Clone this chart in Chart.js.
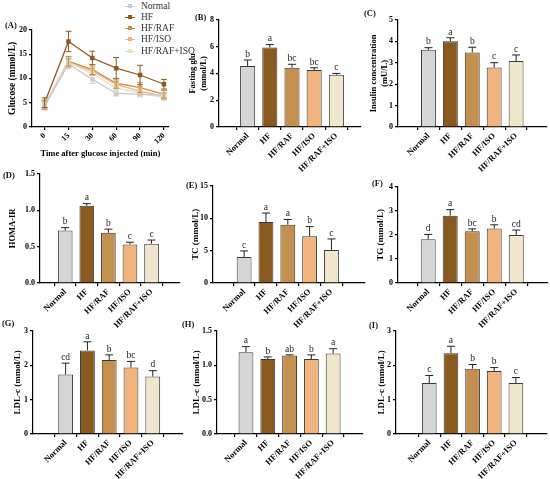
<!DOCTYPE html>
<html>
<head>
<meta charset="utf-8">
<script src="https://cdn.jsdelivr.net/npm/chart.js@4.4.1/dist/chart.umd.min.js"></script>
<style>
  body { margin: 0; background: #fff; }
  #fig { position: relative; width: 550px; height: 479px; overflow: hidden; background: #fff; }
  .panel { position: absolute; }
  .tag { position: absolute; font: bold 8.5px 'Liberation Serif', serif; color: #111; white-space: nowrap; }
  .leg { position: absolute; font: 9.5px 'Liberation Serif', serif; color: #333; white-space: nowrap; }
  .leg i { position: absolute; left: -16px; top: 5px; width: 10px; height: 0; border-top: 1px solid; }
  .leg b { position: absolute; left: -13px; top: 3px; width: 4px; height: 4px; }
</style>
</head>
<body>
<div id="fig"></div>
<script>
// groups and colours
const groups = ['Normal', 'HF', 'HF/RAF', 'HF/ISO', 'HF/RAF+ISO'];
const barColors = ['#d5d5d5', '#8b5a1e', '#c4904f', '#f2b47e', '#efe6cb'];
const lineColors = ['#c6cad4', '#8b5a1e', '#c4904f', '#f2b47e', '#e9dfbf'];

// (A) OGTT
const times = ['0', '15', '30', '60', '90', '120'];
const glucoseNormal = [4.3, 13.0, 9.8, 6.9, 6.7, 6.5];
const glucoseHF = [5.0, 17.6, 14.2, 12.1, 10.7, 8.8];
const glucoseRAF = [4.6, 13.5, 11.8, 9.0, 8.1, 6.7];
const glucoseISO = [4.4, 13.2, 11.5, 8.7, 7.4, 6.3];
const glucoseRAFISO = [4.8, 13.3, 11.0, 8.0, 7.0, 6.0];
const glucoseNormalErr = [0.8, 1.0, 0.8, 0.5, 0.5, 0.5];
const glucoseHFErr = [1.0, 2.1, 1.4, 2.2, 2.0, 1.0];
const glucoseRAFErr = [0.9, 1.0, 1.0, 1.0, 1.0, 0.8];
const glucoseISOErr = [0.8, 0.9, 0.9, 0.8, 0.8, 0.6];
const glucoseRAFISOErr = [0.8, 1.0, 0.9, 0.9, 0.8, 0.6];

// (B) - (I) bar panels
const fastingGlu = [4.55, 5.93, 4.43, 4.25, 3.9];
const fastingGluErr = [0.45, 0.22, 0.25, 0.17, 0.1];
const fastingGluSig = ['b', 'a', 'bc', 'bc', 'c'];

const insulin = [3.6, 4.0, 3.48, 2.77, 3.08];
const insulinErr = [0.1, 0.16, 0.24, 0.23, 0.28];
const insulinSig = ['b', 'a', 'b', 'c', 'c'];

const homaIR = [0.72, 1.06, 0.69, 0.53, 0.54];
const homaIRErr = [0.04, 0.03, 0.05, 0.03, 0.05];
const homaIRSig = ['b', 'a', 'b', 'c', 'c'];

const tc = [4.0, 9.4, 9.0, 7.2, 5.1];
const tcErr = [0.95, 1.4, 0.8, 1.5, 1.7];
const tcSig = ['c', 'a', 'a', 'b', 'c'];

const tg = [1.82, 2.8, 2.15, 2.27, 2.0];
const tgErr = [0.2, 0.25, 0.1, 0.15, 0.2];
const tgSig = ['d', 'a', 'bc', 'b', 'cd'];

const ldlG = [1.73, 2.43, 2.15, 1.93, 1.67];
const ldlGErr = [0.33, 0.25, 0.15, 0.18, 0.17];
const ldlGSig = ['cd', 'a', 'b', 'bc', 'd'];

const ldlH = [1.19, 1.09, 1.14, 1.09, 1.17];
const ldlHErr = [0.08, 0.03, 0.01, 0.06, 0.07];
const ldlHSig = ['a', 'b', 'ab', 'b', 'a'];

const ldlI = [1.48, 2.35, 1.9, 1.83, 1.48];
const ldlIErr = [0.22, 0.2, 0.12, 0.1, 0.16];
const ldlISig = ['c', 'a', 'b', 'b', 'c'];

Chart.defaults.font.family = "'Liberation Serif', 'Times New Roman', serif";
Chart.defaults.color = '#000';
Chart.defaults.animation = false;

// error bars + significance letters, drawn through the chart scales
const errorBars = {
    id: 'errorBars',
    afterDatasetsDraw(chart) {
        const { ctx } = chart;
        const x = chart.scales.x, y = chart.scales.y;
        chart.data.datasets.forEach(ds => {
            if (!ds.errors) return;
            ds.data.forEach((p, i) => {
                const px = x.getPixelForValue(p.x);
                const hi = y.getPixelForValue(p.y + ds.errors[i]);
                const lo = ds.upOnly ? y.getPixelForValue(p.y) : y.getPixelForValue(p.y - ds.errors[i]);
                ctx.save();
                ctx.strokeStyle = ds.errorColor;
                ctx.lineWidth = 1;
                ctx.beginPath();
                ctx.moveTo(px, lo);
                ctx.lineTo(px, hi);
                ctx.moveTo(px - ds.capHalf, hi);
                ctx.lineTo(px + ds.capHalf, hi);
                if (!ds.upOnly) {
                    ctx.moveTo(px - ds.capHalf, lo);
                    ctx.lineTo(px + ds.capHalf, lo);
                }
                ctx.stroke();
                if (ds.letters) {
                    ctx.fillStyle = '#222';
                    ctx.font = "9.5px 'Liberation Serif', serif";
                    ctx.textAlign = 'center';
                    ctx.textBaseline = 'bottom';
                    ctx.fillText(ds.letters[i], px, hi - 1);
                }
                ctx.restore();
            });
        });
    }
};

const fig = document.getElementById('fig');

function makeBox(g) {
    const left = Math.round(g.titleX - g.titleSize * g.titleLH / 2);
    const top = g.yTop - 6;
    const div = document.createElement('div');
    div.className = 'panel';
    div.style.left = left + 'px';
    div.style.top = top + 'px';
    div.style.width = (g.axisR + 2 - left) + 'px';
    div.style.height = (g.yBot - top + g.xH) + 'px';
    const cv = document.createElement('canvas');
    div.appendChild(cv);
    fig.appendChild(div);
    return { cv, yW: g.axisX - left };
}

function axisStyle() {
    return {
        border: { color: '#000', width: 1.2 },
        grid: { drawOnChartArea: false, color: '#000', lineWidth: 1.2, tickLength: 3 }
    };
}

function yAxis(g, yW) {
    return Object.assign(axisStyle(), {
        min: 0, max: g.yMax,
        afterFit: s => { s.width = yW; },
        ticks: { stepSize: g.yStep, padding: 2, font: { size: 8, weight: 'bold' }, callback: v => v.toFixed(g.dec || 0) },
        title: { display: true, text: g.yTitle, padding: 0, font: { size: g.titleSize, weight: 'bold', lineHeight: g.titleLH } }
    });
}

function barPanel(g, vals, errs, sig) {
    const { cv, yW } = makeBox(g);
    new Chart(cv, {
        type: 'bar',
        data: {
            datasets: [{
                data: vals.map((v, i) => ({ x: i + 1, y: v })),
                backgroundColor: barColors,
                borderColor: '#3a3a3a',
                borderWidth: 1,
                barPercentage: 0.68,
                categoryPercentage: 1,
                errors: errs, letters: sig, upOnly: true, errorColor: '#222', capHalf: 4
            }]
        },
        options: {
            responsive: true, maintainAspectRatio: false,
            layout: { padding: { top: 6, right: 2, left: 0, bottom: 0 } },
            plugins: { legend: { display: false }, tooltip: { enabled: false } },
            scales: {
                x: Object.assign(axisStyle(), {
                    type: 'linear', bounds: 'data', min: g.xMin, max: g.xMax,
                    afterBuildTicks: s => { s.ticks = groups.map((_, i) => ({ value: i + 1 })); },
                    afterFit: s => { s.height = g.xH; },
                    ticks: { autoSkip: false, minRotation: 45, maxRotation: 45, padding: 1, font: { size: 8.5, weight: 'bold' }, callback: v => groups[v - 1] }
                }),
                y: yAxis(g, yW)
            }
        },
        plugins: [errorBars]
    });
}

// (A) line chart
(function () {
    const g = { titleX: 13, titleSize: 9.5, titleLH: 1.2, axisX: 32, axisR: 172, yTop: 29, yBot: 127, xH: 32,
        yMax: 20, yStep: 5, yTitle: 'Glucose (mmol/L)' };
    const { cv, yW } = makeBox(g);
    const series = [glucoseNormal, glucoseHF, glucoseRAF, glucoseISO, glucoseRAFISO];
    const errs = [glucoseNormalErr, glucoseHFErr, glucoseRAFErr, glucoseISOErr, glucoseRAFISOErr];
    const order = [0, 4, 3, 2, 1];
    new Chart(cv, {
        type: 'line',
        data: {
            datasets: order.map(k => ({
                label: groups[k],
                data: series[k].map((v, i) => ({ x: i, y: v })),
                borderColor: lineColors[k],
                backgroundColor: lineColors[k],
                borderWidth: 1.3,
                pointStyle: 'rect',
                pointRadius: 2.2,
                errors: errs[k], errorColor: lineColors[k], capHalf: 3
            }))
        },
        options: {
            responsive: true, maintainAspectRatio: false,
            layout: { padding: { top: 6, right: 2, left: 0, bottom: 0 } },
            plugins: { legend: { display: false }, tooltip: { enabled: false } },
            scales: {
                x: Object.assign(axisStyle(), {
                    type: 'linear', bounds: 'data', min: -0.53, max: 5.2,
                    afterBuildTicks: s => { s.ticks = times.map((_, i) => ({ value: i })); },
                    afterFit: s => { s.height = g.xH; },
                    ticks: { autoSkip: false, minRotation: 45, maxRotation: 45, padding: 1, font: { size: 8, weight: 'bold' }, callback: v => times[v] },
                    title: { display: true, text: 'Time after glucose injected (min)', padding: 0, font: { size: 8.5, weight: 'bold' } }
                }),
                y: yAxis(g, yW)
            }
        },
        plugins: [errorBars]
    });

    // legend
    groups.forEach((name, k) => {
        const row = document.createElement('div');
        row.className = 'leg';
        row.style.left = '141px';
        row.style.top = (0.5 + k * 11.25) + 'px';
        row.innerHTML = '<i style="border-color:' + lineColors[k] + '"></i><b style="background:' + lineColors[k] + '"></b>' + name;
        fig.appendChild(row);
    });
})();

barPanel({ titleX: 193, titleSize: 8.5, titleLH: 1.2, axisX: 219, axisR: 361, yTop: 19, yBot: 127, xH: 50,
    xMin: 0.35, xMax: 5.47, yMax: 8, yStep: 2, yTitle: ['Fasting glu', '(mmol/L)'] }, fastingGlu, fastingGluErr, fastingGluSig);
barPanel({ titleX: 374, titleSize: 8.5, titleLH: 1.35, axisX: 398, axisR: 547, yTop: 19, yBot: 127, xH: 50,
    xMin: 0.29, xMax: 5.73, yMax: 5, yStep: 1, yTitle: ['Insulin concentration', '(mU/L)'] }, insulin, insulinErr, insulinSig);
barPanel({ titleX: 13, titleSize: 8.5, titleLH: 1.2, axisX: 40, axisR: 180, yTop: 173, yBot: 283, xH: 50,
    xMin: 0.48, xMax: 5.67, yMax: 1.5, yStep: 0.5, dec: 1, yTitle: 'HOMA-IR' }, homaIR, homaIRErr, homaIRSig);
barPanel({ titleX: 195, titleSize: 9, titleLH: 1.2, axisX: 213, axisR: 365, yTop: 185, yBot: 283, xH: 50,
    xMin: 0.27, xMax: 5.84, yMax: 15, yStep: 5, yTitle: 'TC (mmol/L)' }, tc, tcErr, tcSig);
barPanel({ titleX: 380, titleSize: 9, titleLH: 1.2, axisX: 398, axisR: 548, yTop: 186, yBot: 283, xH: 50,
    xMin: 0.31, xMax: 5.76, yMax: 4, yStep: 1, yTitle: 'TG (mmol/L)' }, tg, tgErr, tgSig);
barPanel({ titleX: 17, titleSize: 9, titleLH: 1.2, axisX: 33, axisR: 183, yTop: 330, yBot: 434, xH: 45,
    xMin: 0.19, xMax: 5.7, yMax: 3, yStep: 1, yTitle: 'LDL-c (mmol/L)' }, ldlG, ldlGErr, ldlGSig);
barPanel({ titleX: 196, titleSize: 9, titleLH: 1.2, axisX: 217, axisR: 363, yTop: 330, yBot: 434, xH: 45,
    xMin: 0.34, xMax: 5.7, yMax: 1.5, yStep: 0.5, dec: 1, yTitle: 'LDL-c (mmol/L)' }, ldlH, ldlHErr, ldlHSig);
barPanel({ titleX: 381, titleSize: 9, titleLH: 1.2, axisX: 396, axisR: 547, yTop: 330, yBot: 434, xH: 45,
    xMin: 0.16, xMax: 5.74, yMax: 3, yStep: 1, yTitle: 'LDL-c (mmol/L)' }, ldlI, ldlIErr, ldlISig);

// panel tags
[['(A)', 5, 20], ['(B)', 195, 12], ['(C)', 364, 8], ['(D)', 3, 170], ['(E)', 186, 180],
 ['(F)', 372, 178], ['(G)', 2, 318], ['(H)', 182, 319], ['(I)', 369, 320]].forEach(t => {
    const d = document.createElement('div');
    d.className = 'tag';
    d.textContent = t[0];
    d.style.left = t[1] + 'px';
    d.style.top = t[2] + 'px';
    fig.appendChild(d);
});
</script>
</body>
</html>
